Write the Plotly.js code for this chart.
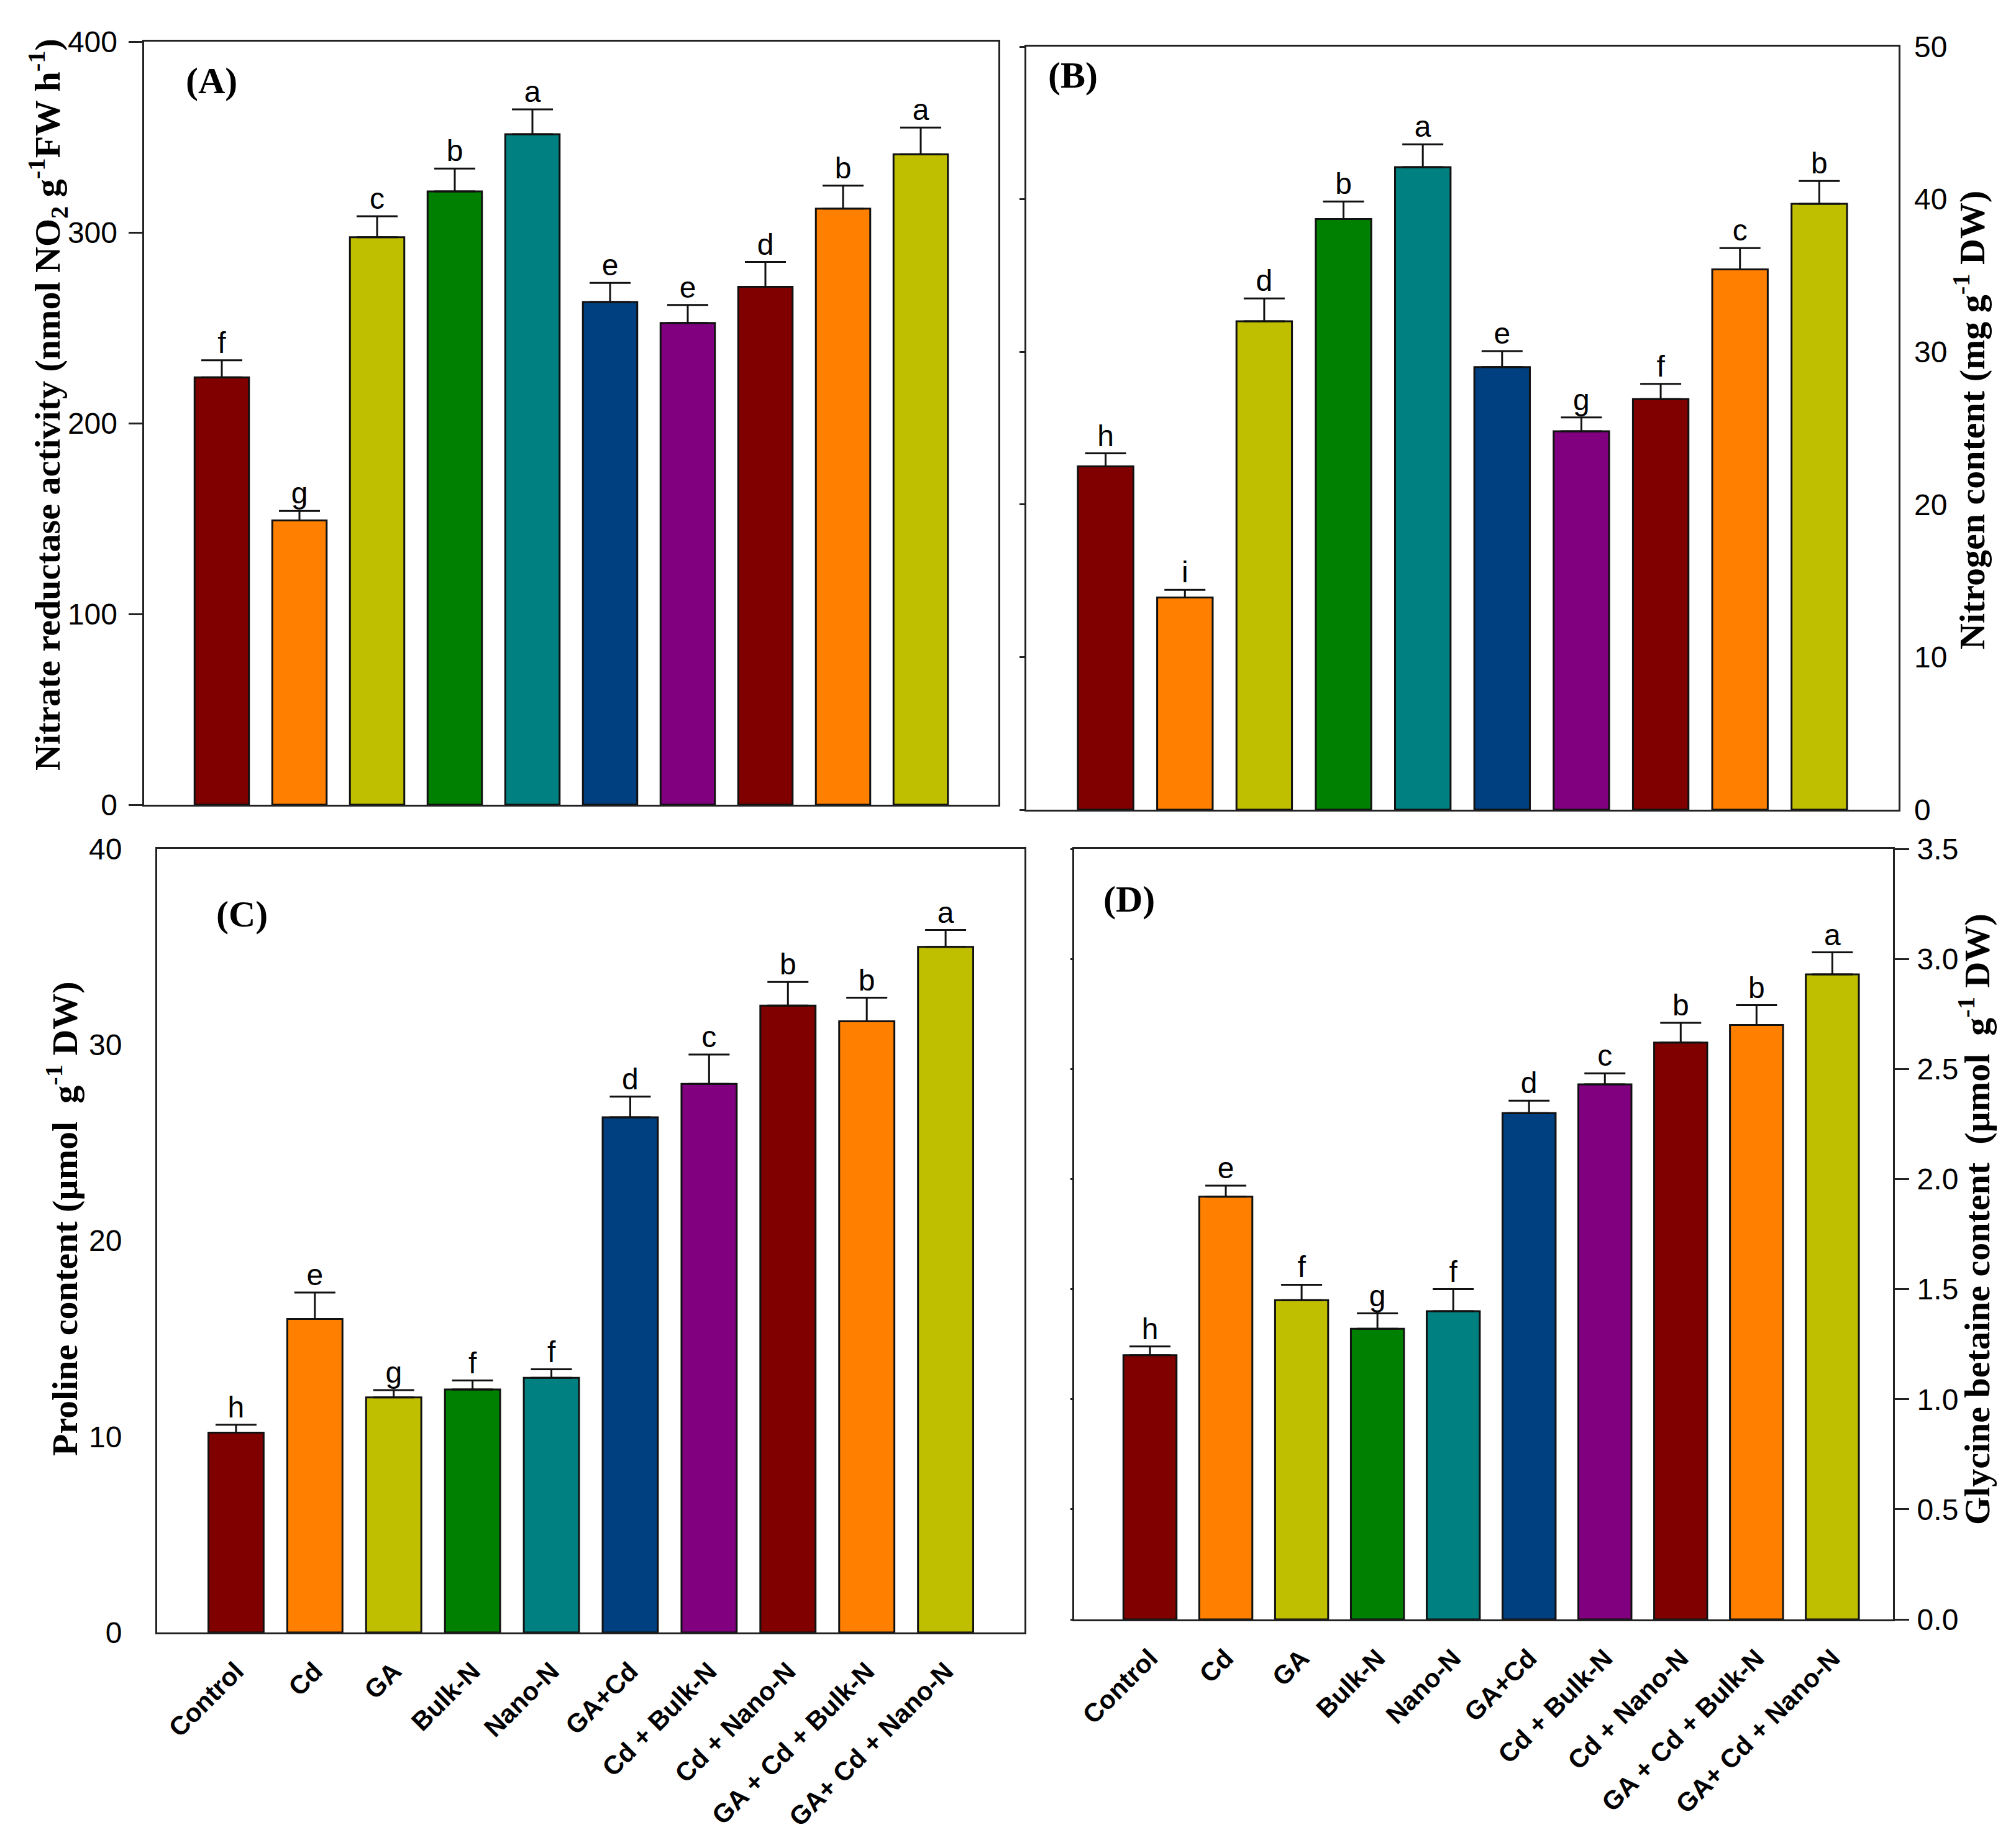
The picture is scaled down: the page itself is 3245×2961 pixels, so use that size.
<!DOCTYPE html>
<html>
<head>
<meta charset="utf-8">
<script src="https://cdn.plot.ly/plotly-3.0.1.min.js"></script>
<style>
  html, body { margin: 0; padding: 0; background: #fff; }
  #chart { width: 3245px; height: 2961px; }
</style>
</head>
<body>
<div id="chart"></div>
<script>
// Treatments shared by all four panels
const categories = ['Control', 'Cd', 'GA', 'Bulk-N', 'Nano-N', 'GA+Cd',
  'Cd + Bulk-N', 'Cd + Nano-N', 'GA + Cd + Bulk-N', 'GA+ Cd + Nano-N'];
const barColors = ['#800000', '#FF8000', '#BFBF00', '#008000', '#008080',
  '#003F80', '#800080', '#800000', '#FF8000', '#BFBF00'];

// (A) Nitrate reductase activity
const nitrateReductase = [224, 149, 297.5, 321.5, 351.5, 263.5, 252.5, 271.5, 312.5, 341];
const nitrateReductaseErr = [9, 5, 11, 12, 13, 10, 9.5, 13, 12, 14];
const nitrateReductaseLetters = ['f', 'g', 'c', 'b', 'a', 'e', 'e', 'd', 'b', 'a'];

// (B) Nitrogen content
const nitrogen = [22.5, 13.9, 32.0, 38.7, 42.1, 29.0, 24.8, 26.9, 35.4, 39.7];
const nitrogenErr = [0.85, 0.5, 1.5, 1.15, 1.5, 1.05, 0.9, 1.0, 1.4, 1.5];
const nitrogenLetters = ['h', 'i', 'd', 'b', 'a', 'e', 'g', 'f', 'c', 'b'];

// (C) Proline content
const proline = [10.2, 16.0, 12.0, 12.4, 13.0, 26.3, 28.0, 32.0, 31.2, 35.0];
const prolineErr = [0.4, 1.35, 0.37, 0.46, 0.43, 1.05, 1.5, 1.2, 1.2, 0.86];
const prolineLetters = ['h', 'e', 'g', 'f', 'f', 'd', 'c', 'b', 'b', 'a'];

// (D) Glycine betaine content
const glycineBetaine = [1.20, 1.92, 1.45, 1.32, 1.40, 2.30, 2.43, 2.62, 2.70, 2.93];
const glycineBetaineErr = [0.04, 0.05, 0.07, 0.07, 0.10, 0.056, 0.05, 0.09, 0.09, 0.10];
const glycineBetaineLetters = ['h', 'e', 'f', 'g', 'f', 'd', 'c', 'b', 'b', 'a'];

// page geometry (px)
const W = 3245, H = 2961;
const px = v => v / W;
const py = v => 1 - v / H;

const SANS = 'Liberation Sans, Arial, sans-serif';
const SERIF = 'Liberation Serif, Times New Roman, serif';
const LINE = '#222';

function barTrace(vals, errs, xa, ya) {
  return {
    type: 'bar', x: categories, y: vals, xaxis: xa, yaxis: ya, width: 0.7,
    marker: { color: barColors, line: { color: '#111', width: 3 } },
    error_y: { type: 'data', array: errs, arrayminus: errs.map(() => 0), symmetric: false,
      visible: true, color: '#111', thickness: 3, width: 33 },
    hoverinfo: 'skip'
  };
}
function letterTrace(vals, errs, letters, xa, ya) {
  return {
    type: 'scatter', mode: 'text', x: categories, y: vals.map((v, i) => v + errs[i]),
    text: letters, textposition: 'top center', xaxis: xa, yaxis: ya,
    textfont: { family: SANS, size: 48, color: '#000' }, cliponaxis: false, hoverinfo: 'skip'
  };
}

const data = [
  barTrace(nitrateReductase, nitrateReductaseErr, 'x', 'y'),
  letterTrace(nitrateReductase, nitrateReductaseErr, nitrateReductaseLetters, 'x', 'y7'),
  barTrace(nitrogen, nitrogenErr, 'x2', 'y2'),
  letterTrace(nitrogen, nitrogenErr, nitrogenLetters, 'x2', 'y5'),
  barTrace(proline, prolineErr, 'x3', 'y3'),
  letterTrace(proline, prolineErr, prolineLetters, 'x3', 'y3'),
  barTrace(glycineBetaine, glycineBetaineErr, 'x4', 'y4'),
  letterTrace(glycineBetaine, glycineBetaineErr, glycineBetaineLetters, 'x4', 'y6')
];

const frame = { showline: true, linecolor: LINE, linewidth: 3, mirror: true,
  showgrid: false, zeroline: false, fixedrange: true };
const tickFont = { family: SANS, size: 48, color: '#000' };

function xAxis(left, right, anchor, labels, rightEnd) {
  const ax = Object.assign({}, frame, {
    domain: [px(left), px(right)], anchor: anchor, type: 'category',
    range: [-1, rightEnd], ticks: ''
  });
  if (labels) {
    ax.showticklabels = true;
    ax.tickangle = -45;
    ax.tickfont = { family: SANS, size: 42, color: '#000', weight: 'bold' };
    ax.ticklabelstandoff = 18;
  } else {
    ax.showticklabels = false;
  }
  return ax;
}

// overlay axis carrying only tick labels or only tick marks
function overlay(base, anchor, side, range, dtick, extra) {
  return Object.assign({
    overlaying: base, anchor: anchor, side: side, range: range, dtick: dtick,
    showline: false, showgrid: false, zeroline: false, fixedrange: true
  }, extra);
}

const layout = {
  width: W, height: H,
  margin: { l: 0, r: 0, t: 0, b: 0, pad: 0 },
  paper_bgcolor: '#fff', plot_bgcolor: '#fff',
  showlegend: false, bargap: 0,

  // (A)
  xaxis: xAxis(232, 1607, 'y', false, 10),
  yaxis: Object.assign({}, frame, {
    domain: [py(1295), py(67)], anchor: 'x', range: [0, 400], dtick: 100,
    ticks: 'outside', ticklen: 22, tickwidth: 3, tickcolor: LINE, showticklabels: false
  }),
  // labels of (A) sit left of the outside ticks
  yaxis7: overlay('y', 'free', 'left', [0, 400], 100, {
    position: px(189), ticks: '', tickfont: tickFont, ticklabelstandoff: 0
  }),

  // (B)
  xaxis2: xAxis(1652, 3056, 'y2', false, 10),
  yaxis2: Object.assign({}, frame, {
    domain: [py(1303), py(75)], anchor: 'x2', range: [0, 50], dtick: 10,
    ticks: 'outside', ticklen: 8, tickwidth: 3, tickcolor: LINE, showticklabels: false
  }),
  yaxis5: overlay('y2', 'x2', 'right', [0, 50], 10, {
    ticks: '', tickfont: tickFont, ticklabelstandoff: 24
  }),

  // (C)
  xaxis3: xAxis(253, 1649, 'y3', true, 10),
  yaxis3: Object.assign({}, frame, {
    domain: [py(2627), py(1366)], anchor: 'x3', range: [0, 40], dtick: 10,
    ticks: '', tickfont: tickFont, ticklabelstandoff: 44
  }),

  // (D)
  xaxis4: xAxis(1729, 3047, 'y4', true, 9.8),
  yaxis4: Object.assign({}, frame, {
    domain: [py(2606), py(1366)], anchor: 'x4', side: 'right', range: [0, 3.5], dtick: 0.5,
    tickformat: '.1f', ticks: 'outside', ticklen: 23, tickwidth: 3, tickcolor: LINE,
    tickfont: tickFont, ticklabelstandoff: 3
  }),
  yaxis6: overlay('y4', 'x4', 'left', [0, 3.5], 0.5, {
    showticklabels: false, ticks: 'outside', ticklen: 5, tickwidth: 3, tickcolor: LINE
  }),

  annotations: [
    // panel tags
    { text: '<b>(A)</b>', x: px(340), y: py(130) },
    { text: '<b>(B)</b>', x: px(1727), y: py(121) },
    { text: '<b>(C)</b>', x: px(389), y: py(1471) },
    { text: '<b>(D)</b>', x: px(1817), y: py(1447) },
    // axis titles
    { text: '<b>Nitrate reductase activity (nmol NO<sub>2</sub> g<sup>-1</sup>FW h<sup>-1</sup>)</b>',
      x: px(77), y: py(651), textangle: -90 },
    { text: '<b>Nitrogen content (mg g<sup>-1</sup> DW)</b>',
      x: px(3170), y: py(676), textangle: -90 },
    { text: '<b>Proline content (\u00b5mol \u00a0g<sup>-1</sup> DW)</b>',
      x: px(100), y: py(1961), textangle: -90 },
    { text: '<b>Glycine betaine content \u00a0(\u00b5mol \u00a0g<sup>-1</sup> DW)</b>',
      x: px(3178), y: py(1962), textangle: -90 }
  ].map(a => Object.assign({
    xref: 'paper', yref: 'paper', showarrow: false, xanchor: 'center', yanchor: 'middle',
    font: { family: SERIF, size: a.textangle ? 58 : 60, color: '#000' }
  }, a))
};

Plotly.newPlot('chart', data, layout, { staticPlot: true, displayModeBar: false });
</script>
</body>
</html>
